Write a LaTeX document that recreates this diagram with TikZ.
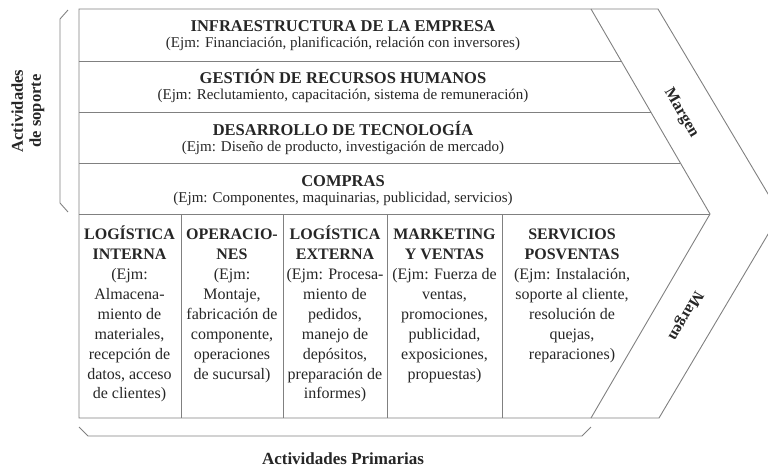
\documentclass[tikz,border=0pt]{standalone}
\usepackage{fontspec}
\setmainfont{Liberation Serif}
\begin{document}
\begin{tikzpicture}[x=1pt,y=-1pt,
  ln/.style={draw=black!50, line width=0.9pt, line join=miter},
  ttl/.style={font=\fontsize{16.5}{18}\selectfont\bfseries, text=black!85, inner sep=0pt, anchor=base},
  subt/.style={font=\fontsize{15}{18}\selectfont, text=black!85, inner sep=0pt, anchor=base},
  colbox/.style={font=\fontsize{16}{19.9}\selectfont, text=black!85, inner sep=0pt, anchor=north, align=center},
  lbl/.style={font=\fontsize{16.5}{18}\selectfont\bfseries, text=black!85, inner sep=0pt, align=center}]
\useasboundingbox (0,0) rectangle (768,467);
\begin{scope}
\clip (0,0) rectangle (768,467);
% corners
\coordinate (tl) at (79,9);
\coordinate (tr) at (658,9);
\coordinate (tip) at (780,214);
\coordinate (br) at (659,418);
\coordinate (bl) at (79,418);
\coordinate (dt) at (591,9);
\coordinate (dm) at (710,214);
\coordinate (db) at (591,418);
% outer chevron and frame
\draw[ln] (tl) -- (tr) -- (tip) -- (br) -- (bl) -- cycle;
\draw[ln] (dt) -- (dm) -- (db);
% support rows
\draw[ln] (79,61) -- (621.2,61);
\draw[ln] (79,112) -- (650.8,112);
\draw[ln] (79,163) -- (680.4,163);
\draw[ln] (79,214) -- (dm);
% primary columns
\draw[ln] (181,214) -- (181,418);
\draw[ln] (283,214) -- (283,418);
\draw[ln] (387,214) -- (387,418);
\draw[ln] (502,214) -- (502,418);
% brackets
\draw[ln] (68,10) -- (60,19) -- (60,203) -- (68,212);
\draw[ln] (79,427) -- (88,436) -- (582,436) -- (591,427);
\end{scope}
% support texts
\node[ttl] (t1) at (343,31) {INFRAESTRUCTURA DE LA EMPRESA};
\node[subt] (s1) at (343,47) {(Ejm: Financiación, planificación, relación con inversores)};
\node[ttl] (t2) at (343,83) {GESTIÓN DE RECURSOS HUMANOS};
\node[subt] (s2) at (343,99) {(Ejm: Reclutamiento, capacitación, sistema de remuneración)};
\node[ttl] (t3) at (343,135) {DESARROLLO DE TECNOLOGÍA};
\node[subt] (s3) at (343,151) {(Ejm: Diseño de producto, investigación de mercado)};
\node[ttl] (t4) at (343,186) {COMPRAS};
\node[subt] (s4) at (343,202) {(Ejm: Componentes, maquinarias, publicidad, servicios)};
% primary texts
\node[colbox] (c1) at (129.5,225.5) {\rule{0pt}{14pt}\textbf{LOGÍSTICA}\\\textbf{INTERNA}\\(Ejm:\\Almacena-\\miento de\\materiales,\\recepción de\\datos, acceso\\de clientes)};
\node[colbox] (c2) at (232,225.5) {\rule{0pt}{14pt}\textbf{OPERACIO-}\\\textbf{NES}\\(Ejm:\\Montaje,\\fabricación de\\componente,\\operaciones\\de sucursal)};
\node[colbox] (c3) at (335,225.5) {\rule{0pt}{14pt}\textbf{LOGÍSTICA}\\\textbf{EXTERNA}\\(Ejm: Procesa-\\miento de\\pedidos,\\manejo de\\depósitos,\\preparación de\\informes)};
\node[colbox] (c4) at (444.5,225.5) {\rule{0pt}{14pt}\textbf{MARKETING}\\\textbf{Y VENTAS}\\(Ejm: Fuerza de\\ventas,\\promociones,\\publicidad,\\exposiciones,\\propuestas)};
\node[colbox] (c5) at (572,225.5) {\rule{0pt}{14pt}\textbf{SERVICIOS}\\\textbf{POSVENTAS}\\(Ejm: Instalación,\\soporte al cliente,\\resolución de\\quejas,\\reparaciones)};
% labels
\node[lbl, rotate=90] (sop) at (28,111) {Actividades\\de soporte};
\node[lbl, font=\fontsize{17}{18}\selectfont\bfseries, anchor=base] (pri) at (343,464) {Actividades Primarias};
\node[lbl, font=\fontsize{16}{18}\selectfont\bfseries, rotate=-59.7] (m1) at (681,113) {Margen};
\node[lbl, font=\fontsize{16}{18}\selectfont\bfseries, rotate=-120.3] (m2) at (685,316) {Margen};
\end{tikzpicture}
\end{document}
